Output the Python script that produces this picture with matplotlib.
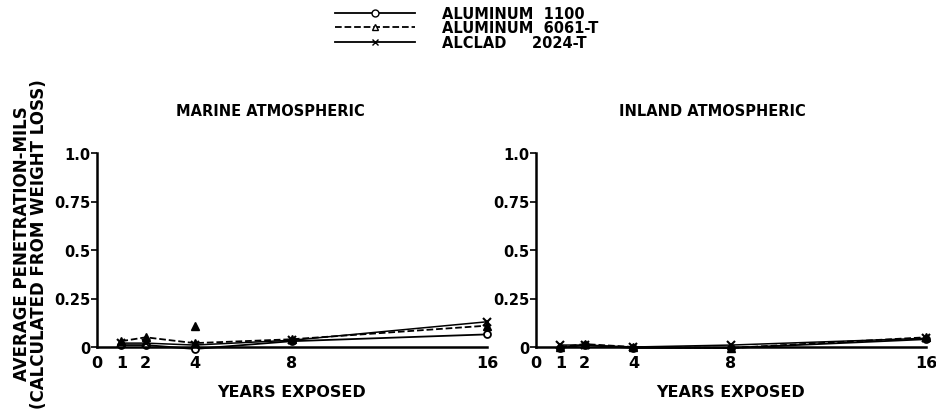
import matplotlib
matplotlib.use("Agg")
import matplotlib.pyplot as plt
from matplotlib.lines import Line2D

years = [1, 2, 4, 8, 16]
tick_years = [0, 1, 2, 4, 8, 16]
y_ticks = [0, 0.25, 0.5, 0.75, 1.0]
y_tick_labels = ["0", "0.25", "0.5", "0.75", "1.0"]

marine_al1100 = [0.01, 0.01, -0.01, 0.03, 0.065]
marine_al6061 = [0.03, 0.05, 0.02, 0.04, 0.11]
marine_alclad = [0.02, 0.02, 0.01, 0.035, 0.13]
marine_outlier_year = [4]
marine_outlier_6061 = [0.11]

inland_al1100 = [-0.005, 0.01, -0.005, -0.005, 0.04]
inland_al6061 = [0.0, 0.015, 0.0, -0.005, 0.05]
inland_alclad = [0.01, 0.01, 0.0, 0.01, 0.045]

series_labels = ["ALUMINUM  1100", "ALUMINUM  6061-T", "ALCLAD     2024-T"]
panel_titles = ["MARINE ATMOSPHERIC", "INLAND ATMOSPHERIC"]

W, H = 937, 414
fig = plt.figure(figsize=(W / 100, H / 100), dpi=100)
plt.rcParams['font.family'] = ['DejaVu Sans']

def ax_rect(x0, x1, ytop, ybot):
    return [x0 / W, 1 - ybot / H, (x1 - x0) / W, (ybot - ytop) / H]

ax1 = fig.add_axes(ax_rect(97, 487, 154, 348))
ax2 = fig.add_axes(ax_rect(536, 926, 154, 348))

def draw(ax, a, b, c):
    ax.plot(years, a, '-', color='black', lw=1.3, marker='o', ms=5,
            mfc='white', mec='black', mew=1.3, clip_on=False)
    ax.plot(years, b, '--', color='black', lw=1.3, marker='^', ms=6,
            mfc='black', mec='black', clip_on=False)
    ax.plot(years, c, '-', color='black', lw=1.1, marker='x', ms=6,
            mew=1.5, clip_on=False)
    ax.set_xlim(0, 16)
    ax.set_ylim(0, 1.0)
    for s in ['top', 'right']:
        ax.spines[s].set_visible(False)
    for s in ['left', 'bottom']:
        ax.spines[s].set_linewidth(1.8)
    ax.set_xticks(tick_years)
    ax.set_xticklabels([str(t) for t in tick_years], fontsize=11.5, fontweight='bold')
    ax.set_yticks(y_ticks)
    ax.set_yticklabels(y_tick_labels, fontsize=10.5, fontweight='bold')
    ax.tick_params(axis='x', length=0, pad=6)
    ax.tick_params(axis='y', length=4, width=1.2, pad=1)
    ax.set_xlabel("YEARS EXPOSED", fontsize=11.5, fontweight='bold', labelpad=10)

draw(ax1, marine_al1100, marine_al6061, marine_alclad)
ax1.plot(marine_outlier_year, marine_outlier_6061, linestyle='none', marker='^',
         ms=6, color='black')
draw(ax2, inland_al1100, inland_al6061, inland_alclad)

fig.text(270 / W, 1 - 112 / H, panel_titles[0], ha='center', va='center',
         fontsize=10.5, fontweight='bold')
fig.text(712 / W, 1 - 112 / H, panel_titles[1], ha='center', va='center',
         fontsize=10.5, fontweight='bold')

fig.text(22 / W, 1 - 244 / H, "AVERAGE PENETRATION-MILS", rotation=90,
         ha='center', va='center', fontsize=12, fontweight='bold')
fig.text(39 / W, 1 - 244 / H, "(CALCULATED FROM WEIGHT LOSS)", rotation=90,
         ha='center', va='center', fontsize=12, fontweight='bold')

handles = [
    Line2D([], [], color='black', lw=1.3, ls='-', marker='o', ms=5, mfc='white'),
    Line2D([], [], color='black', lw=1.3, ls='--', marker='^', ms=5, mfc='white'),
    Line2D([], [], color='black', lw=1.3, ls='-', marker='x', ms=5),
]
leg = fig.legend(handles, series_labels, loc='upper left',
                 bbox_to_anchor=(322 / W, 1 + 6 / H), frameon=False,
                 handlelength=5.5, handletextpad=1.8, labelspacing=-0.05,
                 prop={'size': 10.5, 'weight': 'bold'})

fig.savefig("out.png", dpi=100)
